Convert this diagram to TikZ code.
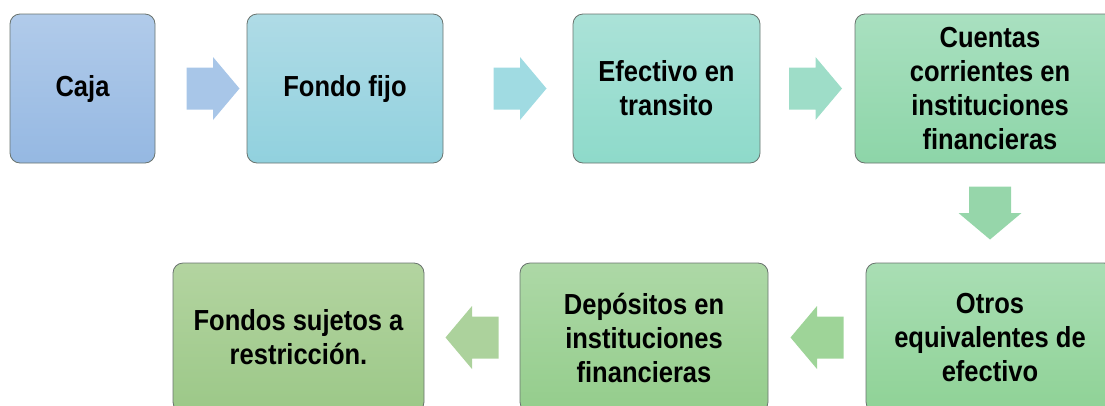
\documentclass[tikz,border=0pt]{standalone}
\usepackage{fontspec}
\setmainfont{Liberation Sans}[FakeStretch=0.88]
\usepackage{tikz}
\usetikzlibrary{calc}
\usepackage{xcolor}
\definecolor{flechaA}{RGB}{168,198,232}
\definecolor{flechaB}{RGB}{160,219,226}
\definecolor{flechaC}{RGB}{158,221,200}
\definecolor{flechaD}{RGB}{150,214,170}
\definecolor{flechaE}{RGB}{158,212,152}
\definecolor{flechaF}{RGB}{172,210,156}

\begin{document}
\begin{tikzpicture}[x=1pt,y=-1pt,
    caja box/.style={draw={rgb,255:red,105;green,115;blue,110},line width=0.8pt,
      rounded corners=10pt,align=center,inner sep=0pt,minimum height=149pt,
      font=\fontsize{29}{34}\selectfont\bfseries},
    flecha/.pic={\fill[#1] (-26.5,-21) -- (0,-21) -- (0,-31.5) -- (26.5,0)
      -- (0,31.5) -- (0,21) -- (-26.5,21) -- cycle;}]
  \useasboundingbox (0,0) rectangle (1105,405);
  %Shape: Rounded Rect -- top row
  \node [caja box,minimum width=145pt,top color={rgb,255:red,177;green,203;blue,234},
    bottom color={rgb,255:red,149;green,184;blue,226}] (caja) at (82.5,88.5) {Caja};
  \node [caja box,minimum width=196pt,top color={rgb,255:red,175;green,219;blue,230},
    bottom color={rgb,255:red,145;green,209;blue,222}] (fondo) at (345,88.5) {Fondo fijo};
  \node [caja box,minimum width=187pt,top color={rgb,255:red,171;green,226;blue,216},
    bottom color={rgb,255:red,142;green,218;blue,202}] (efectivo) at (666.5,88.5) {Efectivo en\\transito};
  \node [caja box,minimum width=270pt,top color={rgb,255:red,169;green,224;blue,192},
    bottom color={rgb,255:red,141;green,213;blue,168}] (cuentas) at (990,88.5) {Cuentas\\corrientes en\\instituciones\\financieras};
  %Shape: Rounded Rect -- bottom row
  \node [caja box,minimum width=248pt,top color={rgb,255:red,169;green,222;blue,180},
    bottom color={rgb,255:red,143;green,210;blue,150}] (otros) at (990,337.5) {Otros\\equivalentes de\\efectivo};
  \node [caja box,minimum width=248pt,top color={rgb,255:red,173;green,216;blue,166},
    bottom color={rgb,255:red,148;green,205;blue,140}] (depositos) at (644,337.5) {Depósitos en\\instituciones\\financieras};
  \node [caja box,minimum width=251pt,top color={rgb,255:red,179;green,212;blue,160},
    bottom color={rgb,255:red,156;green,200;blue,136}] (fondos) at (298.5,337.5) {Fondos sujetos a\\restricción.};
  %Shape: Block Arrows
  \pic at ($(caja.east)!0.5!(fondo.west)+(12,0)$) {flecha=flechaA};
  \pic at ($(fondo.east)!0.5!(efectivo.west)+(12,0)$) {flecha=flechaB};
  \pic at ($(efectivo.east)!0.5!(cuentas.west)+(8,0)$) {flecha=flechaC};
  \pic [rotate=-90] at ($(cuentas.south)!0.5!(otros.north)$) {flecha=flechaD};
  \pic [rotate=180] at ($(otros.west)!0.5!(depositos.east)$) {flecha=flechaE};
  \pic [rotate=180] at ($(depositos.west)!0.5!(fondos.east)$) {flecha=flechaF};
\end{tikzpicture}
\end{document}
